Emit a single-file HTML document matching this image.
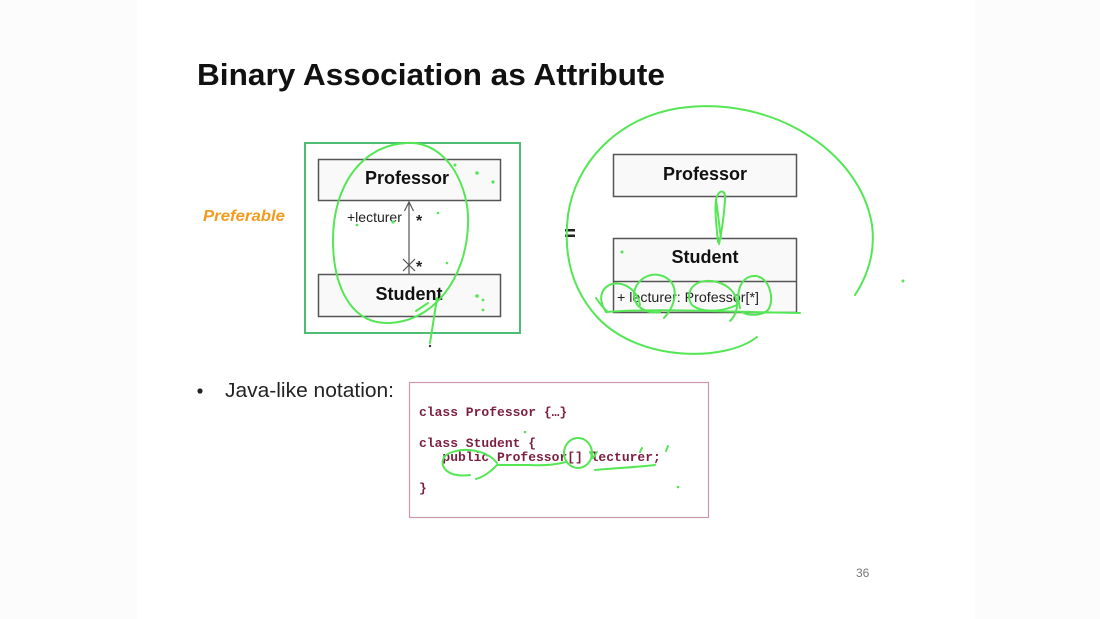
<!DOCTYPE html>
<html>
<head>
<meta charset="utf-8">
<style>
  html,body{margin:0;padding:0;background:#fcfcfc;}
  body{width:1100px;height:619px;overflow:hidden;position:relative;}
  svg{position:absolute;left:0;top:0;}
</style>
</head>
<body>
<svg width="1100" height="619" viewBox="0 0 1100 619" xmlns="http://www.w3.org/2000/svg">
  <!-- slide area -->
  <rect x="0" y="0" width="1100" height="619" fill="#fcfcfc"/>
  <rect x="137" y="0" width="838" height="619" fill="#ffffff"/>

  <!-- Title -->
  <text x="197" y="85" textLength="468" lengthAdjust="spacingAndGlyphs" font-family="Liberation Sans, Arial, sans-serif" font-size="31" font-weight="bold" fill="#111">Binary Association as Attribute</text>

  <!-- Preferable -->
  <text x="203" y="221" textLength="82" lengthAdjust="spacingAndGlyphs" font-family="Liberation Sans, Arial, sans-serif" font-size="16" font-weight="bold" font-style="italic" fill="#f39a1f">Preferable</text>

  <!-- Left diagram: green frame -->
  <rect x="305" y="143" width="215" height="190" fill="none" stroke="#4dbd74" stroke-width="2"/>

  <!-- Professor box (left) -->
  <rect x="318.5" y="159.5" width="182" height="41" fill="#f9f9f9" stroke="#555" stroke-width="1.5"/>
  <text x="407" y="184" text-anchor="middle" font-family="Liberation Sans, Arial, sans-serif" font-size="18" font-weight="bold" fill="#111">Professor</text>

  <!-- Student box (left) -->
  <rect x="318.5" y="274.5" width="182" height="42" fill="#f9f9f9" stroke="#555" stroke-width="1.5"/>
  <text x="409" y="300" text-anchor="middle" font-family="Liberation Sans, Arial, sans-serif" font-size="18" font-weight="bold" fill="#111">Student</text>

  <!-- association line -->
  <line x1="409" y1="202" x2="409" y2="274" stroke="#555" stroke-width="1.2"/>
  <polyline points="404.5,211 409,202 413.5,211" fill="none" stroke="#555" stroke-width="1.2"/>
  <line x1="403" y1="259" x2="415" y2="271" stroke="#555" stroke-width="1.2"/>
  <line x1="415" y1="259" x2="403" y2="271" stroke="#555" stroke-width="1.2"/>
  <text x="347" y="222" font-family="Liberation Sans, Arial, sans-serif" font-size="14" fill="#222">+lecturer</text>
  <text x="416" y="226" font-family="Liberation Sans, Arial, sans-serif" font-size="16" font-weight="bold" fill="#222">*</text>
  <text x="416" y="272" font-family="Liberation Sans, Arial, sans-serif" font-size="16" font-weight="bold" fill="#222">*</text>

  <!-- equals -->
  <rect x="565" y="229" width="10" height="2.5" fill="#222"/>
  <rect x="565" y="234.5" width="10" height="2.5" fill="#222"/>

  <!-- Right diagram -->
  <rect x="613.5" y="154.5" width="183" height="42" fill="#f9f9f9" stroke="#555" stroke-width="1.5"/>
  <text x="705" y="180" text-anchor="middle" font-family="Liberation Sans, Arial, sans-serif" font-size="18" font-weight="bold" fill="#111">Professor</text>

  <rect x="613.5" y="238.5" width="183" height="74" fill="#f9f9f9" stroke="#555" stroke-width="1.5"/>
  <line x1="613.5" y1="281.5" x2="796.5" y2="281.5" stroke="#555" stroke-width="1.5"/>
  <text x="705" y="263" text-anchor="middle" font-family="Liberation Sans, Arial, sans-serif" font-size="18" font-weight="bold" fill="#111">Student</text>
  <text x="617" y="302" textLength="142" lengthAdjust="spacingAndGlyphs" font-family="Liberation Sans, Arial, sans-serif" font-size="14" fill="#222">+ lecturer: Professor[*]</text>

  <!-- Bullet -->
  <circle cx="200" cy="391" r="2.6" fill="#222"/>
  <text x="225" y="397" textLength="169" lengthAdjust="spacingAndGlyphs" font-family="Liberation Sans, Arial, sans-serif" font-size="20.5" fill="#222">Java-like notation:</text>

  <!-- Code box -->
  <rect x="409.5" y="382.5" width="299" height="135" fill="#fff" stroke="#c99aa6" stroke-width="1.2"/>
  <g font-family="Liberation Mono, Courier New, monospace" font-size="13" font-weight="bold" fill="#7b1f3f">
    <text x="419" y="416">class Professor {…}</text>
    <text x="419" y="447">class Student {</text>
    <text x="442.4" y="461">public Professor[] lecturer;</text>
    <text x="419" y="492">}</text>
  </g>

  <!-- page number -->
  <text x="856" y="577" font-family="Liberation Sans, Arial, sans-serif" font-size="12" fill="#777">36</text>

  <!-- Green annotations -->
  <g fill="none" stroke="#55e655" stroke-width="2" stroke-linecap="round" stroke-linejoin="round">
    <!-- left oval -->
    <path d="M407,143 C448,141 470,188 468,225 C466,280 432,323 387,323 C350,323 333,285 333,240 C333,185 362,145 407,143 Z"/>
    <path d="M437,298 L430,343"/>
    <path d="M416,311 L428,303"/>

    <!-- big right loop -->
    <path d="M757,337 C725,362 640,362 598,318 C572,290 563,255 568,215 C575,165 615,118 680,108 C770,95 860,150 872,225 C876,255 866,278 855,295"/>

    <!-- loop between boxes -->
    <path d="M718,242 C716,222 714,205 717,196 C720,189 726,190 725,200 C724,215 722,230 719,244"/>
    <path d="M716,200 C718,212 719,225 721,238"/>

    <!-- attribute scribbles -->
    <path d="M606,312 C598,300 600,288 612,284 C626,281 638,292 640,305"/>
    <path d="M596,298 C600,304 603,308 608,312"/>
    <path d="M664,318 C676,305 680,285 665,277 C650,270 636,280 634,293 C633,306 645,314 660,312"/>
    <path d="M730,321 C742,310 740,285 712,281 C690,279 685,296 692,305 C700,312 720,313 737,305"/>
    <path d="M740,308 C735,290 742,275 756,276 C770,278 775,300 768,310 C762,316 748,316 742,312"/>
    <path d="M606,312 C660,308 720,312 800,313"/>

    <!-- code annotations -->
    <path d="M470,475 C446,478 438,465 445,456 C455,447 485,447 497,463"/>
    <path d="M476,479 C486,476 492,470 497,465 L530,465 C545,466 558,464 566,462"/>
    <ellipse cx="578" cy="453" rx="14" ry="15"/>
    <path d="M595,470 C615,468 640,467 655,465"/>
    <path d="M640,452 L642,448"/>
    <path d="M666,451 L668,446"/>
    <path d="M590,452 L593,458 L597,452"/>
  </g>

  <!-- green dots -->
  <g fill="#55e655">
    <circle cx="455" cy="165" r="1.5"/>
    <circle cx="477" cy="173" r="1.8"/>
    <circle cx="493" cy="182" r="1.6"/>
    <circle cx="357" cy="225" r="1.4"/>
    <circle cx="393" cy="222" r="1.6"/>
    <circle cx="438" cy="213" r="1.3"/>
    <circle cx="447" cy="263" r="1.3"/>
    <circle cx="477" cy="296" r="1.8"/>
    <circle cx="483" cy="300" r="1.4"/>
    <circle cx="483" cy="310" r="1.4"/>
    <circle cx="437" cy="300" r="1.6"/>
    <circle cx="622" cy="252" r="1.5"/>
    <circle cx="903" cy="281" r="1.5"/>
    <circle cx="525" cy="432" r="1.3"/>
    <circle cx="678" cy="487" r="1.3"/>
  </g>
  <circle cx="430" cy="346" r="1.2" fill="#333"/>
</svg>
</body>
</html>
